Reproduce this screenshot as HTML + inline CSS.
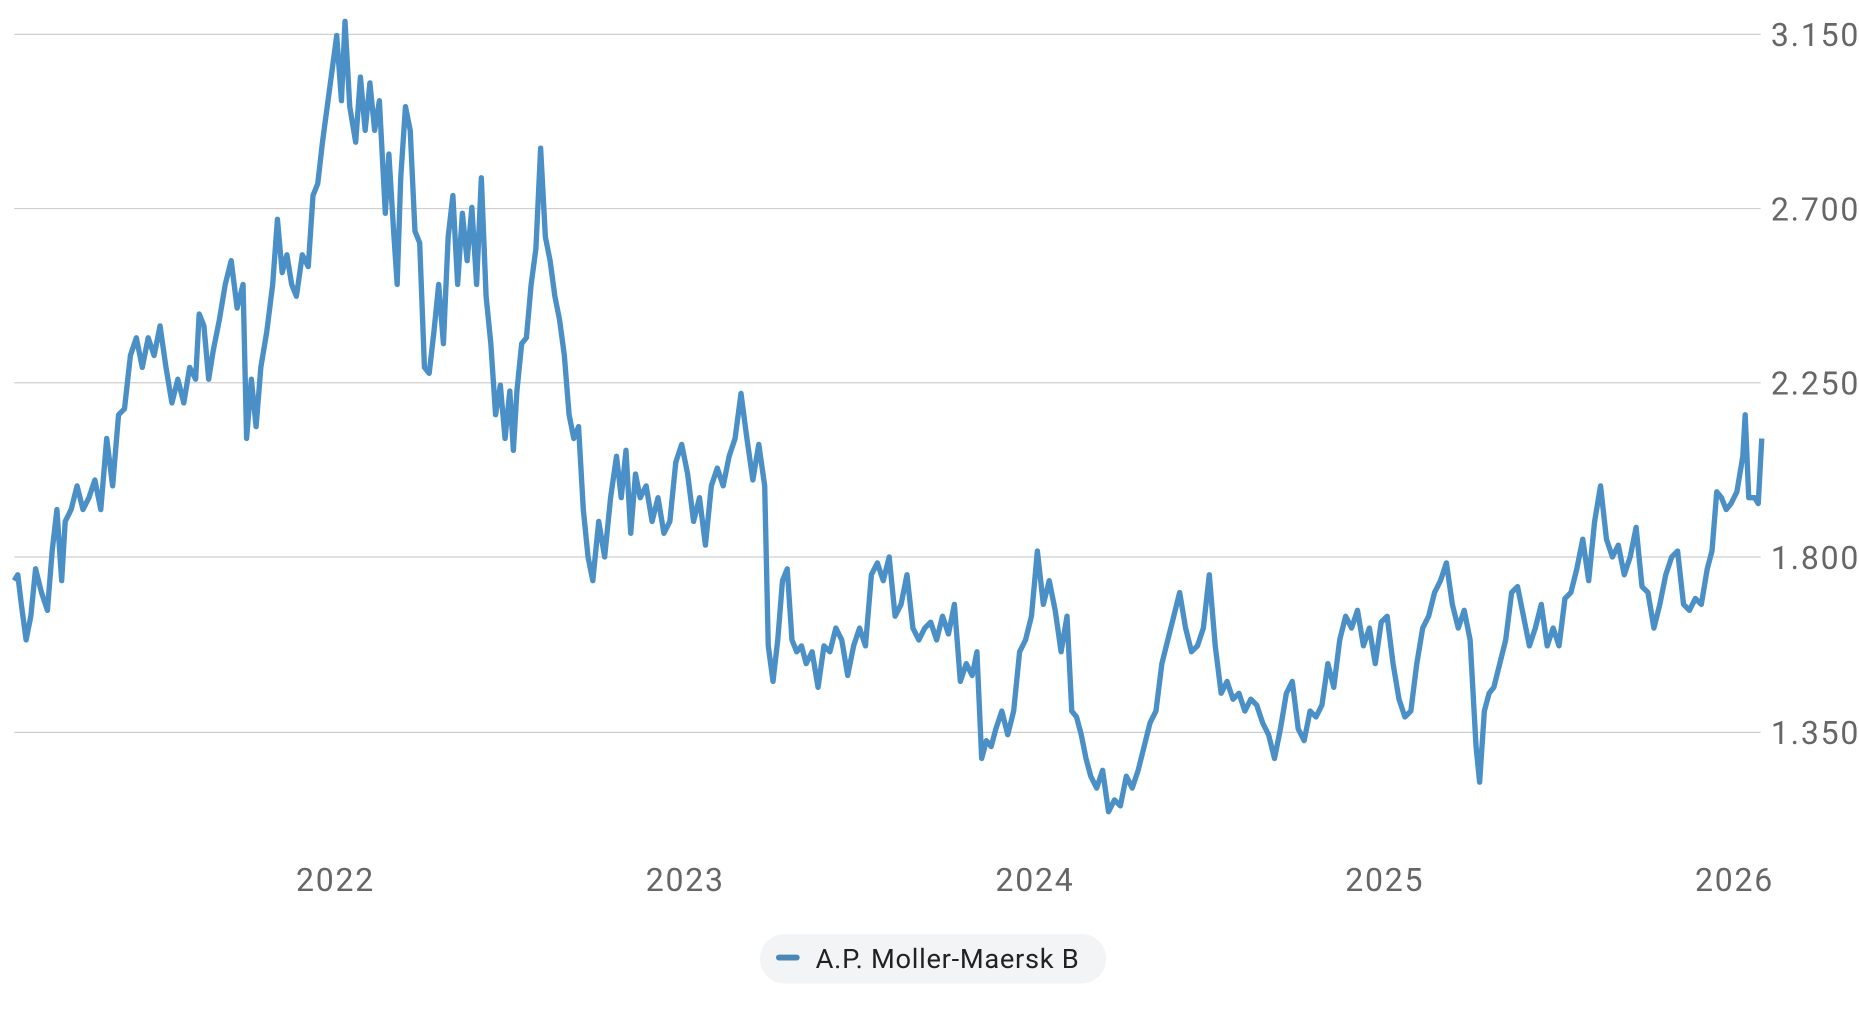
<!DOCTYPE html>
<html><head><meta charset="utf-8"><style>html,body{margin:0;padding:0;background:#fff}svg{display:block}</style></head>
<body>
<svg width="1859" height="1031" viewBox="0 0 1568 870" preserveAspectRatio="none" xmlns="http://www.w3.org/2000/svg" font-family="Roboto, 'Liberation Sans', sans-serif">
<g stroke="#cfcfcf" stroke-width="1">
<line x1="12" y1="29" x2="1485" y2="29"/>
<line x1="12" y1="176" x2="1485" y2="176"/>
<line x1="12" y1="323" x2="1485" y2="323"/>
<line x1="12" y1="470" x2="1485" y2="470"/>
<line x1="12" y1="618" x2="1485" y2="618"/>
</g>
<g fill="#666" font-size="27" letter-spacing="1.5" text-anchor="end">
<text x="1569" y="39">3.150</text>
<text x="1569" y="186">2.700</text>
<text x="1569" y="333">2.250</text>
<text x="1569" y="480">1.800</text>
<text x="1569" y="628">1.350</text>
</g>
<g fill="#666" font-size="27" letter-spacing="1.5" text-anchor="middle">
<text x="283" y="752">2022</text>
<text x="578" y="752">2023</text>
<text x="873" y="752">2024</text>
<text x="1168" y="752">2025</text>
<text x="1463" y="752">2026</text>
</g>
<polyline fill="none" stroke="#4a8fc6" stroke-width="4.5" stroke-linejoin="round" points="12,490 15,485 18,510 22,540 26,520 30,480 35,500 40,515 44,465 48,430 52,490 55,440 60,430 65,410 70,430 75,420 80,405 85,430 90,370 95,410 100,350 105,345 110,300 115,285 120,310 125,285 130,300 135,275 140,310 145,340 150,320 155,340 160,310 165,320 168,265 172,275 176,320 180,295 185,270 190,240 195,220 200,260 205,240 208,370 212,320 216,360 220,310 225,280 230,240 234,185 238,230 242,215 246,240 250,250 255,215 260,225 264,165 268,155 272,120 276,90 280,60 284,30 288,85 291,18 295,90 300,120 304,65 308,110 312,70 316,110 320,85 325,180 328,130 332,195 335,240 338,150 342,90 346,110 350,195 354,205 358,310 362,315 366,280 370,240 374,290 378,200 382,165 386,240 390,180 394,220 398,175 402,240 406,150 410,250 414,290 418,350 422,325 426,370 430,330 433,380 436,330 440,290 444,285 448,240 452,210 456,125 460,200 464,220 468,250 472,270 476,300 480,350 484,370 488,360 492,430 496,470 500,490 505,440 510,470 515,420 520,385 524,420 528,380 532,450 536,400 540,420 545,410 550,440 555,420 560,450 565,440 570,390 575,375 580,400 585,440 590,420 595,460 600,410 605,395 610,410 615,385 620,370 625,332 630,370 635,405 640,375 645,410 648,545 652,575 656,540 660,490 664,480 668,540 672,550 676,545 680,560 685,550 690,580 695,545 700,550 705,530 710,540 715,570 720,545 725,530 730,545 735,485 740,475 745,490 750,470 755,520 760,510 765,485 770,530 775,540 780,530 785,525 790,540 795,520 800,535 805,510 810,575 815,560 820,570 824,550 828,640 832,625 836,630 840,615 845,600 850,620 855,600 860,550 865,540 870,520 875,465 880,510 885,490 890,515 895,550 900,520 904,600 908,605 912,620 916,640 920,655 925,665 930,650 935,685 940,675 945,680 950,655 955,665 960,650 965,630 970,610 975,600 980,560 985,540 990,520 995,500 1000,530 1005,550 1010,545 1015,530 1020,485 1025,545 1030,585 1035,575 1040,590 1045,585 1050,600 1055,590 1060,595 1065,610 1070,620 1075,640 1080,615 1085,585 1090,575 1095,615 1100,625 1105,600 1110,605 1115,595 1120,560 1125,580 1130,540 1135,520 1140,530 1145,515 1150,545 1155,530 1160,560 1165,525 1170,520 1175,560 1180,590 1185,605 1190,600 1195,560 1200,530 1205,520 1210,500 1215,490 1220,475 1225,510 1230,530 1235,515 1240,540 1245,630 1248,660 1252,600 1256,585 1260,580 1265,560 1270,540 1275,500 1280,495 1285,520 1290,545 1295,530 1300,510 1305,545 1310,530 1315,545 1320,505 1325,500 1330,480 1335,455 1340,490 1345,440 1350,410 1355,455 1360,470 1365,460 1370,485 1375,470 1380,445 1385,495 1390,500 1395,530 1400,510 1405,485 1410,470 1415,465 1420,510 1425,515 1430,505 1435,510 1440,480 1444,465 1448,415 1452,420 1456,430 1460,425 1465,415 1470,385 1472,350 1475,420 1480,420 1483,425 1486,370"/>
<rect x="641" y="788" width="292" height="42" rx="21" fill="#f3f4f6"/>
<line x1="657" y1="808" x2="672" y2="808" stroke="#4a88b8" stroke-width="5" stroke-linecap="round"/>
<text x="688" y="817" font-size="23" letter-spacing="0.6" fill="#222">A.P. Moller-Maersk B</text>
</svg>
</body></html>
